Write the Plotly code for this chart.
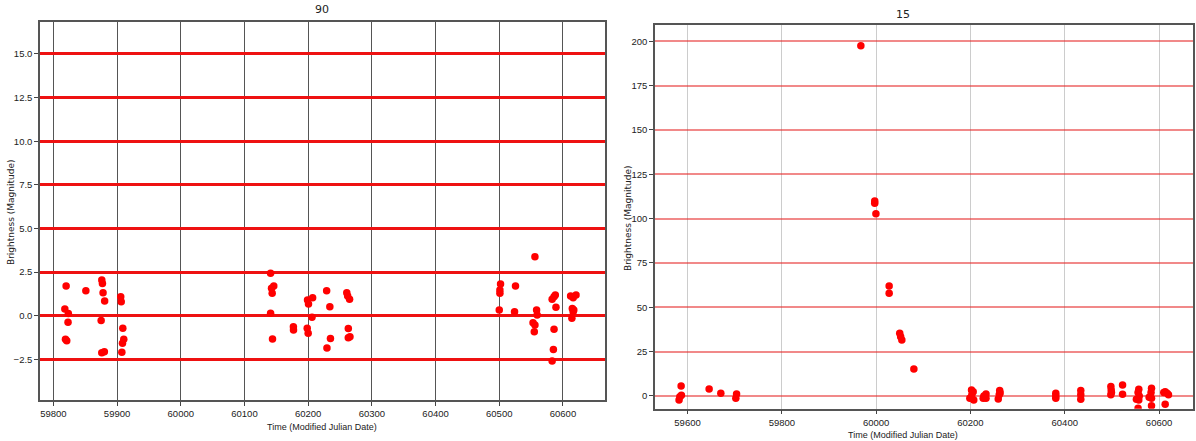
import plotly.graph_objects as go

# ---- Panel "90" data ----
left_title = "90"
left_mjd = [59820, 59818, 59823.5, 59823, 59819, 59821, 59851, 59876, 59877, 59878, 59880.5, 59875,
            59876, 59880, 59905.7, 59906.5, 59909, 59910.5, 59908.5, 59907.5,
            60141, 60142.5, 60143.5, 60146, 60141, 60144, 60176.8, 60177,
            60199, 60200.5, 60207, 60206, 60198.5, 60200,
            60229, 60234, 60235, 60229.5, 60260.6, 60262, 60265, 60263, 60263, 60265.6,
            60500, 60501, 60501, 60502, 60525.5, 60524, 60556, 60558.6, 60559.5, 60553, 60556, 60555,
            60583, 60586, 60588, 60589, 60586, 60585, 60583,
            60612, 60616, 60620.5, 60614.7, 60616, 60617, 60614]
left_mag = [1.70, 0.38, 0.13, -0.38, -1.35, -1.43, 1.43, 2.05, 1.85, 1.32, 0.84, -0.28,
            -2.12, -2.06, 1.09, 0.80, -0.72, -1.35, -1.58, -2.10,
            2.43, 1.57, 1.28, 1.70, 0.14, -1.34, -0.63, -0.82,
            0.90, 0.67, 1.03, -0.09, -0.72, -1.01,
            1.43, 0.52, -1.30, -1.85, 1.32, 1.13, 0.94, -0.74, -1.26, -1.20,
            0.33, 1.28, 1.47, 1.82, 1.70, 0.23, 3.38, 0.33, 0.04, -0.40, -0.53, -0.92,
            0.94, 1.09, 1.19, 0.48, -0.78, -1.93, -2.60,
            1.13, 1.03, 1.19, 0.42, 0.23, 0.33, -0.15]
left_yticks = [-2.5, 0.0, 2.5, 5.0, 7.5, 10.0, 12.5, 15.0]
left_xticks = [59800, 59900, 60000, 60100, 60200, 60300, 60400, 60500, 60600]

# ---- Panel "15" data ----
right_title = "15"
right_mjd = [59967.6, 59997, 59997, 59999.5, 60027.6, 60027.6,
             59586.4, 59583.7, 59582, 59587, 59645.8, 59670.6, 59702.4, 59704,
             60050, 60052, 60054.5, 60080,
             60202.3, 60203, 60198.7, 60207, 60205.8,
             60228.5, 60233, 60227, 60233,
             60262, 60261, 60259, 60263,
             60381, 60381, 60381,
             60434, 60434, 60434,
             60497.8, 60498.5, 60497.8, 60499,
             60522.6, 60522.6,
             60557, 60555.5, 60552, 60557, 60555.5, 60558,
             60584, 60583, 60579, 60584, 60584,
             60613, 60617, 60620, 60613, 60610]
right_mag = [197.5, 110.0, 108.7, 102.8, 62.0, 57.9,
             5.6, -0.4, -2.3, 0.4, 3.9, 1.5, -1.3, 1.1,
             35.3, 33.4, 31.6, 15.2,
             3.4, 0.6, -1.3, -2.3, 2.4,
             0.0, 1.1, -1.3, -1.3,
             3.0, 0.6, -1.7, 1.7,
             1.5, -1.3, 0.0,
             3.0, -1.9, 0.6,
             5.3, 3.4, 0.6, 1.9,
             6.2, 0.9,
             3.8, 1.9, -1.9, -2.3, -7.0, 0.0,
             4.3, 1.9, -0.8, -1.3, -5.6,
             2.4, 1.5, 0.6, -4.7, 2.0]
right_yticks = [0, 25, 50, 75, 100, 125, 150, 175, 200]
right_xticks = [59600, 59800, 60000, 60200, 60400, 60600]

W, H = 1196, 441
tickfont = dict(family="Liberation Sans, Arial, sans-serif", size=9.5, color="#222")
xlabfont = dict(family="Liberation Sans, Arial, sans-serif", size=9, color="#222")
labfont = dict(family="DejaVu Sans, sans-serif", size=9, color="#222")
titlefont = dict(family="DejaVu Sans, sans-serif", size=11, color="#222")

fig = go.Figure()
fig.add_trace(go.Scatter(x=left_mjd, y=left_mag, mode="markers", xaxis="x", yaxis="y",
                         marker=dict(color="red", size=7.5), showlegend=False, cliponaxis=True))
fig.add_trace(go.Scatter(x=right_mjd, y=right_mag, mode="markers", xaxis="x2", yaxis="y2",
                         marker=dict(color="red", size=7.5), showlegend=False, cliponaxis=True))

def px_x(p): return p / W
def px_y(p): return 1 - p / H

axis_common = dict(showline=True, mirror=True, linecolor="#555", linewidth=1.5,
                   ticks="outside", ticklen=4, tickcolor="#444", tickfont=tickfont,
                   zeroline=False, automargin=False)

def ann(text, x, y, font, angle=0):
    return dict(text=text, x=px_x(x), y=px_y(y), xref="paper", yref="paper",
                xanchor="center", yanchor="middle", showarrow=False,
                textangle=angle, font=font)

fig.update_layout(
    width=W, height=H, margin=dict(l=0, r=0, t=0, b=0),
    paper_bgcolor="white", plot_bgcolor="white",
    xaxis=dict(domain=[px_x(40), px_x(605)], range=[59779, 60666], tickvals=left_xticks,
               tickformat="d", showgrid=True, gridcolor="#555", gridwidth=1, anchor="y",
               **axis_common),
    yaxis=dict(domain=[px_y(400), px_y(22)], range=[-4.83, 16.83], tickvals=left_yticks,
               tickformat=".1f", showgrid=True, gridcolor="#ee1111", gridwidth=2.5, anchor="x",
               **axis_common),
    xaxis2=dict(domain=[px_x(655), px_x(1193)], range=[59531, 60672], tickvals=right_xticks,
                tickformat="d", showgrid=True, gridcolor="#cccccc", gridwidth=1, anchor="y2",
                **axis_common),
    yaxis2=dict(domain=[px_y(408.7), px_y(25)], range=[-7.2, 209.2], tickvals=right_yticks,
                tickformat="d", showgrid=True, gridcolor="rgba(230,40,40,0.55)", gridwidth=2,
                anchor="x2", **axis_common),
    annotations=[
        ann(left_title, 322, 10, titlefont),
        ann(right_title, 903, 14, titlefont),
        ann("Time (Modified Julian Date)", 322, 427, xlabfont),
        ann("Time (Modified Julian Date)", 903, 435, xlabfont),
        ann("Brightness (Magnitude)", 11, 212, labfont, -90),
        ann("Brightness (Magnitude)", 628, 218, labfont, -90),
    ],
)

fig.write_html("out.html")
